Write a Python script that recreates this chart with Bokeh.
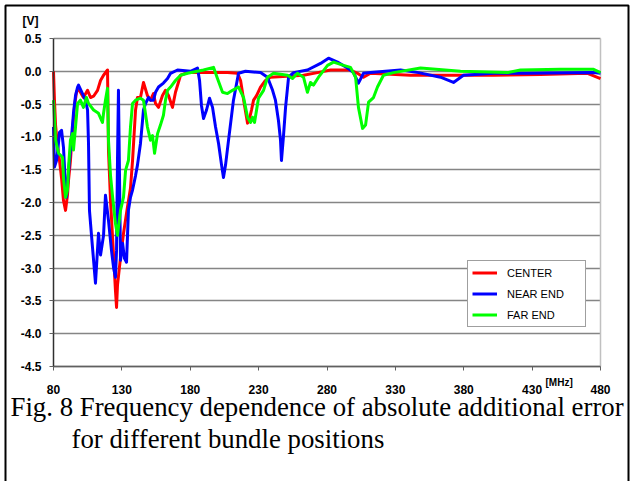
from bokeh.plotting import figure
from bokeh.models import (Label, Legend, LegendItem, FixedTicker, Grid,
                          NumeralTickFormatter, BoxAnnotation, Range1d)
from bokeh.embed import file_html
from bokeh.resources import INLINE

# ---- data (frequency in MHz, error in V) ----
series_names = ["CENTER", "NEAR END", "FAR END"]
series_colors = ["#ff0000", "#0000ff", "#00ff00"]

center_f = [80.0, 80.7, 81.5, 82.9, 84.4, 85.9, 87.3, 88.8, 90.2, 91.0, 92.4, 93.9, 95.4, 96.8,
            98.3, 99.7, 101.9, 104.9, 107.1, 109.3, 112.2, 114.4, 116.6, 119.5, 120.2, 121.7,
            123.9, 125.3, 126.1, 126.8, 129.0, 131.2, 134.1, 136.3, 137.8, 140.0, 141.4, 143.6,
            145.8, 148.7, 150.9, 153.1, 154.6, 156.8, 159.7, 161.9, 164.1, 167.0, 169.2, 172.9,
            178.0, 187.5, 207.2, 214.6, 216.8, 219.7, 221.9, 223.3, 224.8, 226.3, 228.5, 231.4,
            235.0, 238.7, 262.8, 273.1, 282.6, 297.2, 302.3, 306.7, 311.8, 341.1, 370.3, 401.8,
            436.1, 470.5, 480.0]
center_v = [0.00, -0.44, -0.82, -1.13, -1.36, -1.63, -1.97, -2.12, -1.89, -1.66, -1.36, -0.90,
            -0.52, -0.32, -0.26, -0.32, -0.40, -0.29, -0.40, -0.38, -0.29, -0.14, -0.06, 0.02,
            -1.20, -1.97, -2.80, -3.34, -3.60, -3.26, -2.84, -2.47, -2.07, -1.78, -1.36, -0.59,
            -0.40, -0.40, -0.17, -0.37, -0.44, -0.34, -0.49, -0.55, -0.37, -0.29, -0.37, -0.55,
            -0.32, -0.06, -0.02, -0.02, -0.02, -0.03, -0.14, -0.52, -0.79, -0.72, -0.59, -0.44,
            -0.37, -0.24, -0.14, -0.09, -0.06, -0.02, 0.02, 0.02, -0.03, -0.09, -0.03, -0.06,
            -0.06, -0.06, -0.05, -0.03, -0.11]

near_f = [80.0, 80.7, 82.2, 82.9, 84.4, 85.9, 87.3, 88.8, 89.5, 90.2, 92.4, 94.6, 96.1, 97.6,
          98.3, 101.2, 103.4, 104.9, 105.6, 106.3, 108.5, 110.7, 112.9, 114.4, 116.6, 118.0,
          120.2, 122.4, 123.9, 125.3, 126.1, 126.8, 127.5, 128.3, 129.0, 130.5, 131.9, 133.4,
          134.8, 136.3, 137.8, 140.0, 141.4, 143.6, 145.8, 147.3, 149.5, 150.9, 153.1, 154.6,
          156.8, 160.4, 163.4, 165.6, 170.7, 180.2, 185.3, 186.8, 188.2, 189.7, 191.9, 194.1,
          196.3, 198.5, 200.7, 202.9, 204.3, 205.8, 208.0, 211.6, 215.3, 220.4, 231.4, 236.5,
          240.2, 242.3, 244.5, 246.0, 246.7, 248.2, 249.7, 251.9, 255.5, 265.7, 275.3, 281.1,
          287.7, 295.0, 299.4, 303.0, 306.7, 311.8, 333.8, 346.9, 363.0, 372.5, 379.8, 401.8,
          426.6, 474.9, 480.0]
near_v = [-0.85, -1.46, -1.36, -1.25, -0.93, -0.90, -1.16, -1.77, -1.92, -1.74, -1.20, -0.64,
          -0.37, -0.24, -0.21, -0.34, -0.44, -0.59, -1.10, -2.12, -2.68, -3.23, -2.47, -2.80,
          -2.50, -1.89, -2.27, -2.73, -2.99, -3.14, -2.73, -1.36, -0.29, -1.66, -2.88, -2.62,
          -2.85, -2.91, -2.12, -1.92, -1.81, -1.59, -1.43, -1.10, -0.59, -0.49, -0.40, -0.44,
          -0.44, -0.32, -0.24, -0.18, -0.11, -0.03, 0.02, 0.00, 0.05, -0.14, -0.52, -0.72,
          -0.59, -0.41, -0.55, -0.85, -1.10, -1.43, -1.62, -1.43, -1.05, -0.44, -0.03, 0.00,
          -0.02, -0.09, -0.29, -0.44, -0.75, -1.05, -1.36, -0.98, -0.55, -0.09, -0.02, 0.02,
          0.12, 0.20, 0.14, 0.05, -0.02, -0.18, -0.03, -0.02, 0.02, -0.02, -0.09, -0.17,
          -0.06, -0.03, -0.03, -0.02, -0.03]

far_f = [80.0, 81.5, 83.7, 86.6, 87.3, 88.8, 90.2, 91.0, 92.4, 93.9, 94.6, 96.1, 97.6, 99.7,
         101.9, 104.1, 105.6, 109.3, 112.9, 115.8, 116.6, 118.0, 119.5, 120.2, 121.7, 123.1,
         125.3, 126.8, 129.0, 131.2, 132.7, 134.8, 136.3, 137.8, 140.0, 143.6, 145.8, 148.7,
         150.9, 152.4, 153.9, 156.1, 158.2, 160.4, 161.9, 163.4, 165.6, 169.2, 172.9, 178.0,
         189.7, 197.0, 199.9, 203.6, 207.2, 210.9, 215.3, 219.0, 221.9, 224.1, 225.5, 227.0,
         229.9, 233.6, 236.5, 240.9, 251.1, 254.8, 258.4, 262.8, 265.7, 267.9, 270.1, 273.8,
         280.4, 284.8, 292.1, 297.2, 300.9, 303.0, 306.0, 308.2, 310.4, 314.0, 316.9, 321.3,
         328.6, 348.4, 377.6, 412.0, 421.5, 450.8, 474.9, 480.0]
far_v = [-0.44, -1.05, -1.25, -1.31, -1.62, -1.92, -1.81, -1.46, -1.05, -0.95, -1.20, -0.85,
         -0.49, -0.44, -0.55, -0.40, -0.49, -0.59, -0.64, -0.78, -0.64, -0.44, -0.26, -1.05,
         -1.59, -1.89, -2.32, -2.50, -2.12, -1.92, -1.51, -1.36, -0.85, -0.49, -0.44, -0.41,
         -0.44, -0.85, -1.05, -0.98, -1.25, -0.95, -0.82, -0.67, -0.44, -0.29, -0.24, -0.14,
         -0.06, -0.03, 0.02, 0.06, -0.11, -0.32, -0.34, -0.29, -0.24, -0.40, -0.70, -0.78,
         -0.70, -0.78, -0.41, -0.29, -0.09, -0.03, -0.06, -0.11, -0.03, -0.09, -0.32, -0.17,
         -0.21, -0.09, 0.09, 0.14, 0.09, 0.06, -0.09, -0.55, -0.87, -0.82, -0.47, -0.40,
         -0.24, -0.06, -0.02, 0.05, 0.00, -0.02, 0.02, 0.03, 0.03, -0.02]

x_ticks = [80, 130, 180, 230, 280, 330, 380, 430, 480]
y_ticks = [0.5, 0.0, -0.5, -1.0, -1.5, -2.0, -2.5, -3.0, -3.5, -4.0, -4.5]
x_min, x_max = 80, 480
y_min, y_max = -4.5, 0.5
y_unit = "[V]"
x_unit = "[MHz]"
caption_1 = "Fig. 8 Frequency dependence of absolute additional error"
caption_2 = "for different bundle positions"

# ---- canvas geometry (pixels) ----
W, H = 631, 481
PL, PR, PT, PB = 53, 600, 38, 366          # plot-area edges on the canvas
sx = (x_max - x_min) / (PR - PL)
sy = (y_max - y_min) / (PB - PT)
def X(px):   # canvas x pixel -> data x
    return x_min + (px - PL) * sx
def Y(py):   # canvas y pixel -> data y
    return y_max - (py - PT) * sy

# The frame covers the whole canvas so that captions can live inside it;
# the axes are pinned to the chart's own edges.
p = figure(width=W, height=H, output_backend="svg", toolbar_location=None,
           x_range=Range1d(X(0), X(W)), y_range=Range1d(Y(H), Y(0)),
           min_border_left=0, min_border_right=0, min_border_top=0,
           min_border_bottom=0)
p.background_fill_color = "white"
p.border_fill_color = "white"
p.outline_line_color = None

p.xgrid.visible = False
p.ygrid.ticker = FixedTicker(ticks=y_ticks)
p.ygrid.cross_bounds = (x_min, x_max)
p.ygrid.grid_line_color = "#858585"
p.ygrid.grid_line_width = 1.5

edge = Grid(dimension=0, ticker=FixedTicker(ticks=[x_max]), cross_bounds=(y_min, y_max),
            grid_line_color="#c0c0c0", grid_line_width=1.5)
p.add_layout(edge)

p.xaxis.fixed_location = y_min
p.xaxis.bounds = (x_min, x_max)
p.yaxis.fixed_location = x_min
p.yaxis.bounds = (y_min, y_max)
p.xaxis.ticker = FixedTicker(ticks=x_ticks)
p.yaxis.ticker = FixedTicker(ticks=y_ticks)
p.yaxis.formatter = NumeralTickFormatter(format="0.0")
for ax in (p.xaxis, p.yaxis):
    ax.axis_line_color = "#606060"
    ax.axis_line_width = 1.5
    ax.major_tick_line_color = "#606060"
    ax.major_tick_in = 0
    ax.major_tick_out = 4
    ax.minor_tick_line_color = None
    ax.major_label_text_font = "Liberation Sans"
    ax.major_label_text_font_style = "bold"
    ax.major_label_text_font_size = "12px"
    ax.major_label_text_color = "black"
p.yaxis.axis_line_color = "#303030"
p.xaxis.major_label_standoff = 14
p.yaxis.major_label_standoff = 8

renderers = []
for f, v, c in ((center_f, center_v, series_colors[0]),
                (near_f, near_v, series_colors[1]),
                (far_f, far_v, series_colors[2])):
    r = p.line(f, v, line_color=c, line_width=3, line_join="round")
    renderers.append(r)

legend = Legend(items=[LegendItem(label=n, renderers=[r]) for n, r in zip(series_names, renderers)],
                location=(467, H - 327))
legend.border_line_color = "#404040"
legend.border_line_width = 1
legend.background_fill_color = "white"
legend.background_fill_alpha = 1
legend.label_text_font = "Liberation Sans"
legend.label_text_font_size = "11px"
legend.label_text_color = "black"
legend.glyph_width = 25
legend.glyph_height = 15
legend.label_height = 15
legend.label_width = 74
legend.spacing = 6
legend.padding = 4
legend.margin = 0
legend.label_standoff = 10
p.add_layout(legend)

p.add_layout(Label(x=X(22), y=Y(27), text=y_unit, text_font="Liberation Sans",
                   text_font_style="bold", text_font_size="12px", text_color="black"))
p.add_layout(Label(x=X(545), y=Y(387), text=x_unit, text_font="Liberation Sans",
                   text_font_style="bold", text_font_size="10px", text_color="black"))
p.add_layout(Label(x=X(10), y=Y(421), text=caption_1, text_font="Liberation Serif",
                   text_font_size="26.8px", text_color="black"))
p.add_layout(Label(x=X(71), y=Y(453), text=caption_2, text_font="Liberation Serif",
                   text_font_size="26.8px", text_color="black"))

p.add_layout(BoxAnnotation(left=X(5), right=X(628), top=Y(5), bottom=Y(H + 10),
                           fill_alpha=0, line_color="black", line_alpha=1, line_width=2,
                           level="overlay"))

open("out.html", "w").write(file_html(p, INLINE))
